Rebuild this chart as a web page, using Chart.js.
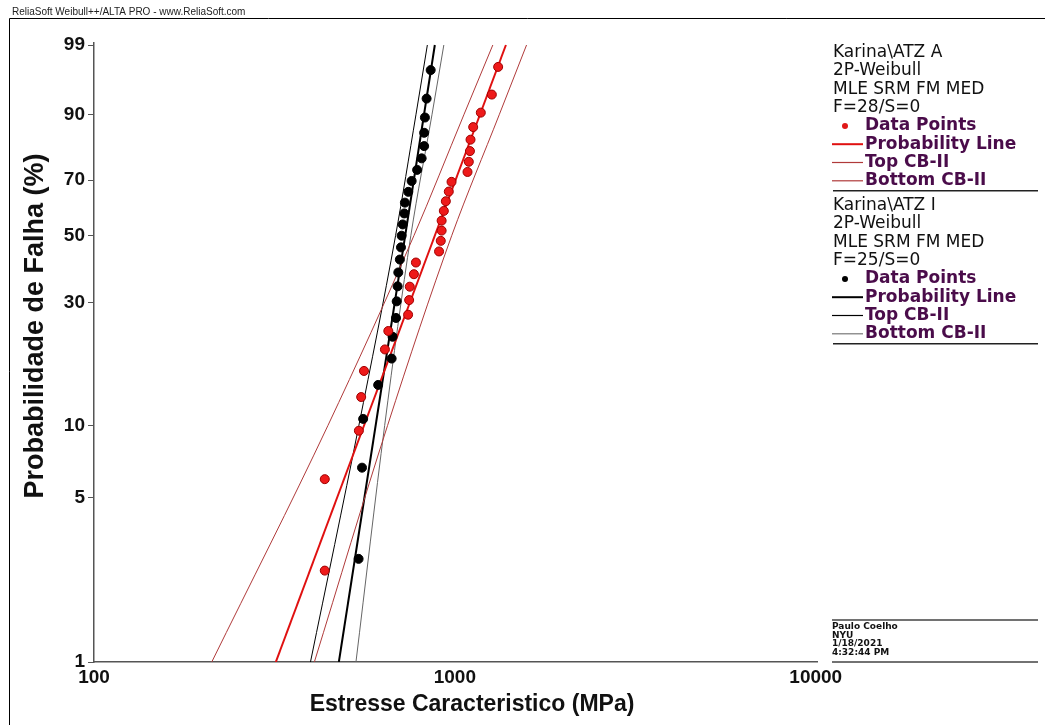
<!DOCTYPE html>
<html>
<head>
<meta charset="utf-8">
<script src="https://cdn.jsdelivr.net/npm/chart.js@4.4.1/dist/chart.umd.min.js"></script>
<style>
  html, body { margin: 0; padding: 0; background: #fff; }
  #wrap { position: relative; width: 1045px; height: 725px; }
</style>
</head>
<body>
<div id="wrap"><canvas id="weibullChart" width="1045" height="725"></canvas></div>
<script>
// ATZ A (vermelho) - 28 falhas, tensao (MPa) e posto mediano (%)
const stressA = [436, 436, 542, 550, 560, 640, 654, 742, 747, 750, 770, 780, 904, 914,
  919, 919, 932, 944, 962, 979, 1084, 1093, 1101, 1105, 1124, 1180, 1266, 1318];
const rankA = [2.46, 5.99, 9.51, 13.03, 16.55, 20.07, 23.59, 27.11, 30.63, 34.15, 37.68,
  41.20, 44.72, 48.24, 51.76, 55.28, 58.80, 62.32, 65.85, 69.37, 72.89, 76.41, 79.93,
  83.45, 86.97, 90.49, 94.01, 97.54];

// ATZ I (preto) - 25 falhas
const stressI = [541, 553, 557, 613, 668, 672, 687, 690, 694, 697, 704, 709, 712, 717,
  724, 727, 743, 759, 786, 809, 822, 822, 826, 835, 857];
const rankI = [2.76, 6.69, 10.63, 14.57, 18.50, 22.44, 26.38, 30.31, 34.25, 38.19, 42.13,
  46.06, 50.00, 53.94, 57.87, 61.81, 65.75, 69.69, 73.62, 77.56, 81.50, 85.43, 89.37,
  93.31, 97.24];

// retas de probabilidade (x em F=1% e F=99%)
const lineF = [1, 99];
const probLineA = [319, 1385];
const probLineI = [477, 880];

// limites de confianca
const boundF = [1, 10, 50, 90, 99];
const topCbA = [212, 445, 770, 1059, 1274];
const bottomCbA = [408, 651, 980, 1327, 1580];
const topCbI = [398, 542, 685, 780, 839];
const bottomCbI = [532, 639, 755, 864, 932];

const yTicks = [1, 5, 10, 30, 50, 70, 90, 99];
const xTicks = [100, 1000, 10000];

const headerText = "ReliaSoft Weibull++/ALTA PRO - www.ReliaSoft.com";
const groupNames = ["Karina\\ATZ A", "Karina\\ATZ I"];
const groupModel = ["2P-Weibull", "MLE SRM FM MED"];
const groupCounts = ["F=28/S=0", "F=25/S=0"];
const legendItems = ["Data Points", "Probability Line", "Top CB-II", "Bottom CB-II"];
const infoLines = ["Paulo Coelho", "NYU", "1/18/2021", "4:32:44 PM"];

// escala de Weibull: ln(-ln(1-F))
function weib(p) {
  return Math.log(-Math.log(1 - p / 100));
}
function pts(xs, fs) {
  return xs.map((x, i) => ({ x: x, y: weib(fs[i]) }));
}

function lineSet(xs, fs, color, width) {
  return {
    type: "line",
    data: pts(xs, fs),
    borderColor: color,
    borderWidth: width,
    pointRadius: 0,
    fill: false,
    cubicInterpolationMode: "monotone",
    order: 2
  };
}

const extras = {
  id: "extras",
  beforeDraw(chart) {
    const ctx = chart.ctx;
    ctx.save();
    ctx.fillStyle = "#fff";
    ctx.fillRect(0, 0, chart.width, chart.height);
    ctx.restore();
  },
  afterDraw(chart) {
    const ctx = chart.ctx;
    ctx.save();

    // cabecalho e moldura
    ctx.fillStyle = "#222";
    ctx.font = "10px 'Liberation Sans'";
    ctx.textBaseline = "alphabetic";
    ctx.fillText(headerText, 12, 15);
    ctx.strokeStyle = "#000";
    ctx.lineWidth = 1;
    ctx.beginPath();
    ctx.moveTo(9.5, 725);
    ctx.lineTo(9.5, 18.5);
    ctx.lineTo(1045, 18.5);
    ctx.stroke();

    // titulos dos eixos
    ctx.fillStyle = "#111";
    ctx.textAlign = "center";
    ctx.textBaseline = "middle";
    ctx.font = "bold 23px 'Liberation Sans'";
    ctx.fillText("Estresse Caracteristico (MPa)", 472, 705);
    ctx.save();
    ctx.translate(36, 326);
    ctx.rotate(-Math.PI / 2);
    ctx.font = "bold 27px 'Liberation Sans'";
    ctx.fillText("Probabilidade de Falha (%)", 0, 0);
    ctx.restore();

    // legenda
    const colors = [
      { pt: "#e01818", prob: "#e01010", top: "#b03a3a", bot: "#b03a3a" },
      { pt: "#000", prob: "#000", top: "#000", bot: "#777" }
    ];
    const step = 18.3;
    [52.7, 205.7].forEach((y0, g) => {
      ctx.textAlign = "left";
      ctx.fillStyle = "#111";
      ctx.font = "17px 'DejaVu Sans'";
      const head = [groupNames[g], groupModel[0], groupModel[1], groupCounts[g]];
      head.forEach((t, i) => ctx.fillText(t, 833, y0 + i * step));
      ctx.font = "bold 17px 'DejaVu Sans'";
      legendItems.forEach((t, i) => {
        const y = y0 + (i + 4) * step;
        const c = colors[g];
        if (i === 0) {
          ctx.fillStyle = c.pt;
          ctx.beginPath();
          ctx.arc(845, y, 3, 0, Math.PI * 2);
          ctx.fill();
        } else {
          ctx.strokeStyle = i === 1 ? c.prob : (i === 2 ? c.top : c.bot);
          ctx.lineWidth = i === 1 ? 2 : 1.2;
          ctx.beginPath();
          ctx.moveTo(832, y);
          ctx.lineTo(863, y);
          ctx.stroke();
        }
        ctx.fillStyle = "#4a0c4a";
        ctx.fillText(t, 865, y);
      });
      ctx.strokeStyle = "#222";
      ctx.lineWidth = 1.5;
      const ly = y0 + 7 * step + 10;
      ctx.beginPath();
      ctx.moveTo(833, ly);
      ctx.lineTo(1038, ly);
      ctx.stroke();
    });

    // caixa de informacao
    ctx.fillStyle = "#fff";
    ctx.fillRect(818, 614, 227, 52);
    ctx.strokeStyle = "#444";
    ctx.lineWidth = 1.5;
    ctx.beginPath();
    ctx.moveTo(832, 620);
    ctx.lineTo(1038, 620);
    ctx.moveTo(832, 662);
    ctx.lineTo(1038, 662);
    ctx.stroke();
    ctx.fillStyle = "#111";
    ctx.font = "bold 9px 'DejaVu Sans'";
    infoLines.forEach((t, i) => ctx.fillText(t, 832, 627 + i * 8.5));

    ctx.restore();
  }
};

new Chart(document.getElementById("weibullChart"), {
  type: "scatter",
  data: {
    datasets: [
      {
        data: pts(stressA, rankA),
        backgroundColor: "#ee1a1a",
        borderColor: "#a00000",
        borderWidth: 1,
        pointRadius: 4.5,
        order: 0
      },
      {
        data: pts(stressI, rankI),
        backgroundColor: "#000",
        borderColor: "#000",
        borderWidth: 1,
        pointRadius: 4.5,
        order: 0
      },
      lineSet(probLineA, lineF, "#e01010", 2),
      lineSet(topCbA, boundF, "#b03a3a", 1),
      lineSet(bottomCbA, boundF, "#b03a3a", 1),
      lineSet(probLineI, lineF, "#000", 2),
      lineSet(topCbI, boundF, "#000", 1),
      lineSet(bottomCbI, boundF, "#666", 1)
    ]
  },
  options: {
    responsive: false,
    animation: false,
    devicePixelRatio: 1,
    layout: { padding: { top: 43, right: 12, left: 0, bottom: 0 } },
    plugins: {
      legend: { display: false },
      tooltip: { enabled: false }
    },
    scales: {
      x: {
        type: "logarithmic",
        min: 100,
        max: 40000,
        afterFit: s => { s.height = 63; },
        afterBuildTicks: s => { s.ticks = xTicks.map(v => ({ value: v })); },
        grid: { drawOnChartArea: false, drawTicks: false },
        border: { color: "#555", width: 1.5 },
        ticks: {
          autoSkip: false,
          maxRotation: 0,
          padding: 4,
          color: "#111",
          font: { family: "'Liberation Sans'", size: 19, weight: "bold" },
          callback: v => String(v)
        }
      },
      y: {
        type: "linear",
        min: weib(1),
        max: weib(99) + 0.02,
        afterFit: s => { s.width = 94; },
        afterBuildTicks: s => { s.ticks = yTicks.map(p => ({ value: weib(p) })); },
        grid: { drawOnChartArea: false, tickLength: 6, color: "#555" },
        border: { color: "#555", width: 1.5 },
        ticks: {
          autoSkip: false,
          padding: 3,
          color: "#111",
          font: { family: "'Liberation Sans'", size: 19, weight: "bold" },
          callback: (v, i) => String(yTicks[i])
        }
      }
    }
  },
  plugins: [extras]
});
</script>
</body>
</html>
